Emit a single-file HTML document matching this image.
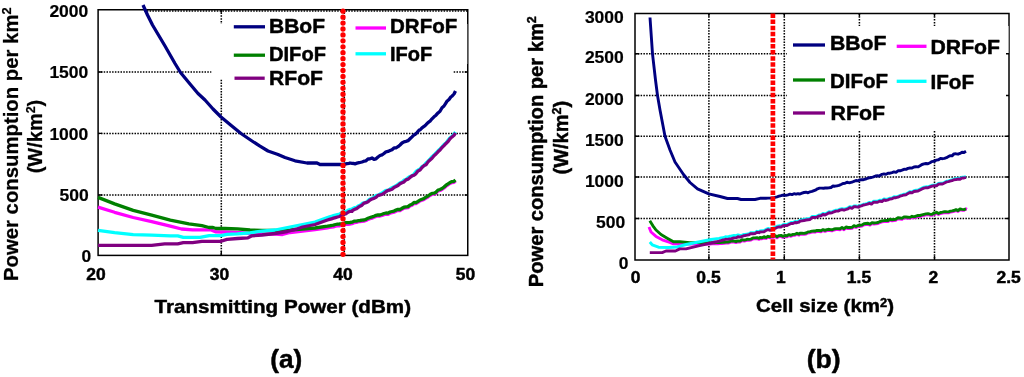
<!DOCTYPE html>
<html lang="en">
<head>
<meta charset="utf-8">
<title>Power consumption per km2 versus transmitting power and cell size</title>
<style>
  html, body { margin: 0; padding: 0; background: #fff; }
  body { width: 1024px; height: 377px; overflow: hidden; }
  svg { display: block; will-change: transform; }
  svg text { font-family: "Liberation Sans", Arial, Helvetica, sans-serif; font-weight: bold; fill: #000; stroke: #000; stroke-width: 0.45px; stroke-linejoin: round; }
  .t2 text { stroke-width: 0.25px; }
  .tk { stroke-width: 0.2px; }
  .g { stroke: #000; stroke-width: 1.55; stroke-dasharray: 1.5 1.3; fill: none; }
  .k { stroke: #000; stroke-width: 1.4; fill: none; }
  .f { stroke: #000; stroke-width: 1.5; fill: none; }
</style>
</head>
<body>
<svg width="1024" height="377" viewBox="0 0 1024 377">
<rect x="0" y="0" width="1024" height="377" fill="#fff"/>
<g id="plot-a">
<line x1="98.1" y1="72.0" x2="467.75" y2="72.0" class="g"/>
<line x1="98.1" y1="133.4" x2="467.75" y2="133.4" class="g"/>
<line x1="98.1" y1="195.0" x2="467.75" y2="195.0" class="g"/>
<line x1="221.3" y1="9.75" x2="221.3" y2="255.4" class="g"/>
<line x1="344.3" y1="9.75" x2="344.3" y2="255.4" class="g"/>
<line x1="144" y1="10.95" x2="467.75" y2="10.95" class="g"/>
<rect x="211.5" y="24" width="241.5" height="55" fill="#fff"/>
<path d="M98.1 72.0h4.2M467.75 72.0h-3" class="k"/>
<path d="M98.1 133.4h4.2M467.75 133.4h-3" class="k"/>
<path d="M98.1 195.0h4.2M467.75 195.0h-3" class="k"/>
<path d="M221.3 255.4v-4.2M221.3 9.75v3" class="k"/>
<rect x="98.1" y="9.75" width="369.65" height="245.65" class="f"/>
<rect x="466.75" y="24" width="0.55" height="40" fill="#fff"/>
<polyline points="143.0,5.0 147.5,15.0 152.5,25.0 165.0,46.0 175.0,63.5 180.5,72.5 190.0,84.0 198.0,93.5 205.0,100.0 213.0,109.0 221.0,117.0 230.0,124.5 241.0,133.5 252.0,141.0 260.0,146.2 268.0,151.0 278.0,154.5 285.0,157.5 295.0,160.8 307.0,163.0 317.0,163.0 320.0,164.5 343.0,164.5 345.0,164.1 347.0,163.6 349.0,163.3 350.0,163.0 352.0,163.4 354.0,163.5 355.0,163.8 357.0,163.2 359.0,162.7 360.0,162.5 362.0,162.0 364.0,161.2 366.0,160.8 368.0,159.0 370.0,158.8 372.0,158.0 374.0,159.3 376.0,158.8 378.0,157.0 380.0,155.5 382.0,154.9 384.0,153.5 386.0,151.8 388.0,151.4 390.0,150.5 392.0,149.7 394.0,147.9 396.0,147.9 398.0,146.7 400.0,145.0 402.0,143.0 404.0,141.8 406.0,141.3 408.0,140.7 410.0,138.8 412.0,136.9 414.0,134.9 415.0,134.5 417.0,132.6 419.0,130.2 420.0,130.0 422.0,127.8 424.0,126.4 426.0,124.7 428.0,122.6 430.0,121.2 432.0,118.8 434.0,116.8 436.0,115.2 438.0,112.9 440.0,111.2 442.0,107.7 444.0,106.0 446.0,102.8 447.0,101.2 449.0,99.5 451.0,96.8 452.0,96.2 454.0,94.0 455.5,91.0" fill="none" stroke="#000080" stroke-width="3.3" stroke-linejoin="round" stroke-linecap="butt"/>
<polyline points="98.0,207.1 114.6,212.3 133.2,217.5 151.7,221.6 170.3,226.2 181.5,229.0 192.6,229.9 211.2,229.9 216.0,231.9 225.0,232.0 237.0,232.5 250.0,233.3 262.0,234.0 275.0,234.2 282.5,234.5 290.0,232.5 302.5,231.0 315.0,229.5 327.5,227.8 329.5,227.4 331.5,227.1 333.5,226.8 335.5,226.2 337.5,225.8 339.5,225.8 340.0,225.5 342.0,225.3 344.0,225.0 346.0,224.4 348.0,224.3 350.0,224.0 352.0,223.7 352.5,223.5 354.5,222.5 356.5,222.3 358.5,221.7 360.0,221.5 362.0,221.3 364.0,221.1 366.0,220.5 368.0,219.3 370.0,218.7 372.0,218.1 374.0,217.3 376.0,216.4 378.0,215.8 380.0,216.0 382.0,215.4 384.0,214.6 386.0,214.1 388.0,214.3 390.0,213.2 392.0,212.7 394.0,212.2 396.0,211.2 398.0,210.3 400.0,210.5 402.0,209.3 404.0,208.2 406.0,207.8 408.0,207.6 410.0,206.0 412.0,205.3 414.0,203.5 416.0,203.6 418.0,202.4 420.0,201.0 422.0,200.3 424.0,199.4 426.0,198.1 428.0,197.0 430.0,195.5 432.0,194.3 434.0,194.2 436.0,193.2 438.0,191.0 440.0,190.5 442.0,189.5 444.0,188.0 446.0,186.2 448.0,184.9 450.0,183.5 452.0,182.6 454.0,182.3 455.5,181.0" fill="none" stroke="#ff00ff" stroke-width="3.3" stroke-linejoin="round" stroke-linecap="butt"/>
<polyline points="98.0,197.4 114.6,203.9 133.2,210.4 151.7,215.1 170.3,220.1 188.9,223.8 201.9,225.7 209.0,227.5 213.0,227.5 216.0,228.5 225.0,228.5 237.5,228.8 250.0,230.0 262.0,230.5 277.5,230.5 290.0,230.0 302.5,229.2 315.0,228.0 327.5,226.2 329.5,225.8 331.5,225.5 333.5,225.1 335.5,224.5 337.5,224.1 339.5,224.0 340.0,223.8 342.0,223.6 344.0,223.3 346.0,222.7 348.0,222.7 350.0,222.5 352.0,222.2 352.5,222.0 354.5,221.1 356.5,221.1 358.5,220.6 360.0,220.5 362.0,220.2 364.0,220.0 366.0,219.4 368.0,218.2 370.0,217.5 372.0,216.9 374.0,216.2 376.0,215.3 378.0,214.8 380.0,215.0 382.0,214.3 384.0,213.5 386.0,213.0 388.0,213.2 390.0,212.0 392.0,211.5 394.0,211.1 396.0,210.1 398.0,209.3 400.0,209.5 402.0,208.3 404.0,207.2 406.0,206.8 408.0,206.6 410.0,205.0 412.0,204.3 414.0,202.5 416.0,202.6 418.0,201.4 420.0,200.0 422.0,199.3 424.0,198.4 426.0,197.1 428.0,196.0 430.0,194.5 432.0,193.3 434.0,193.2 436.0,192.2 438.0,190.0 440.0,189.5 442.0,188.5 444.0,187.0 446.0,185.2 448.0,183.9 450.0,182.5 452.0,181.6 454.0,181.3 455.5,180.0" fill="none" stroke="#008000" stroke-width="3.3" stroke-linejoin="round" stroke-linecap="butt"/>
<polyline points="98.0,230.3 114.6,232.7 133.2,234.6 151.7,235.1 170.3,235.9 177.7,235.9 183.3,237.4 200.0,237.4 209.3,235.6 221.0,235.6 227.0,234.4 237.5,233.8 250.0,232.8 262.0,231.2 275.0,230.0 290.0,227.0 302.5,224.5 315.0,222.0 327.5,217.5 329.5,216.9 331.5,216.3 333.5,215.7 335.5,215.1 337.5,214.5 339.5,214.0 340.0,213.8 342.0,212.6 344.0,211.7 346.0,211.7 348.0,210.3 350.0,209.4 352.0,209.6 352.5,208.8 354.5,207.7 356.5,207.3 358.5,205.7 360.5,205.0 362.5,203.2 364.5,203.0 365.0,202.5 367.0,201.7 369.0,199.7 370.0,199.0 372.0,198.4 374.0,197.3 376.0,195.3 378.0,195.4 380.0,194.0 382.0,193.1 384.0,191.7 386.0,190.3 388.0,190.5 390.0,189.0 392.0,187.7 394.0,186.8 396.0,185.8 398.0,184.3 400.0,182.8 402.0,182.1 404.0,180.1 406.0,179.5 408.0,177.7 410.0,176.5 412.0,175.7 414.0,174.1 416.0,171.4 418.0,170.0 420.0,169.0 422.0,166.6 424.0,165.7 426.0,162.9 428.0,161.2 430.0,159.0 432.0,156.7 434.0,155.0 436.0,152.8 438.0,150.8 440.0,149.0 442.0,146.9 444.0,144.6 446.0,142.9 448.0,140.3 450.0,137.8 452.0,136.3 454.0,134.1 455.5,132.0" fill="none" stroke="#00ffff" stroke-width="3.3" stroke-linejoin="round" stroke-linecap="butt"/>
<polyline points="98.0,245.4 151.7,245.4 164.7,243.9 177.7,243.9 183.3,242.6 192.6,242.6 201.9,241.3 221.0,241.3 227.0,239.4 237.5,238.5 248.0,237.8 252.0,235.8 262.0,235.0 275.0,233.5 287.5,231.5 296.0,229.2 302.5,227.0 315.0,224.5 327.5,220.0 329.5,219.4 331.5,218.8 333.5,218.2 335.5,217.6 337.5,217.0 339.5,216.5 340.0,216.2 342.0,215.0 344.0,214.0 346.0,213.8 348.0,212.3 350.0,211.3 352.0,211.4 352.5,210.5 354.5,209.3 356.5,208.7 358.5,207.1 360.0,206.2 362.0,205.2 364.0,203.2 366.0,202.7 368.0,201.8 370.0,200.0 372.0,199.0 374.0,198.4 376.0,197.3 378.0,195.3 380.0,195.0 382.0,194.4 384.0,193.1 386.0,191.7 388.0,190.3 390.0,190.0 392.0,189.3 394.0,187.5 396.0,186.6 398.0,185.6 400.0,183.8 402.0,182.8 404.0,181.9 406.0,179.8 408.0,179.2 410.0,177.5 412.0,175.9 414.0,175.2 416.0,173.6 418.0,170.9 420.0,170.0 422.0,167.5 424.0,165.6 426.0,164.7 428.0,161.9 430.0,160.0 432.0,158.2 434.0,155.7 436.0,154.0 438.0,151.8 440.0,150.0 442.0,147.5 444.0,145.6 446.0,143.4 448.0,141.6 450.0,138.8 452.0,136.9 454.0,135.2 455.5,133.0" fill="none" stroke="#800080" stroke-width="3.3" stroke-linejoin="round" stroke-linecap="butt"/>
<line x1="343" y1="11.2" x2="343" y2="256" stroke="#ff0000" stroke-width="5.3" stroke-linecap="round" stroke-dasharray="0.01 5.92"/>
<line x1="233.8" y1="26.8" x2="265" y2="26.8" stroke="#000080" stroke-width="3.3"/>
<text x="269" y="32.6" font-size="19.4" text-anchor="start" textLength="56" lengthAdjust="spacingAndGlyphs">BBoF</text>
<line x1="233.8" y1="55.2" x2="265" y2="55.2" stroke="#008000" stroke-width="3.3"/>
<text x="269" y="61.3" font-size="19.4" text-anchor="start" textLength="57" lengthAdjust="spacingAndGlyphs">DIFoF</text>
<line x1="234.5" y1="78.2" x2="264.7" y2="78.2" stroke="#800080" stroke-width="3.3"/>
<text x="269" y="84.6" font-size="19.4" text-anchor="start" textLength="54" lengthAdjust="spacingAndGlyphs">RFoF</text>
<line x1="355.5" y1="28.0" x2="386" y2="28.0" stroke="#ff00ff" stroke-width="3.3"/>
<text x="390" y="33.2" font-size="19.4" text-anchor="start" textLength="67.3" lengthAdjust="spacingAndGlyphs">DRFoF</text>
<line x1="355.5" y1="53.8" x2="386" y2="53.8" stroke="#00ffff" stroke-width="3.3"/>
<text x="390" y="61.1" font-size="19.4" text-anchor="start" textLength="42.2" lengthAdjust="spacingAndGlyphs">IFoF</text>
<text x="88.3" y="17.0" font-size="17.3" text-anchor="end" textLength="38.9" lengthAdjust="spacingAndGlyphs" class="tk">2000</text>
<text x="88.3" y="78.0" font-size="17.3" text-anchor="end" textLength="38.9" lengthAdjust="spacingAndGlyphs" class="tk">1500</text>
<text x="88.3" y="139.6" font-size="17.3" text-anchor="end" textLength="38.9" lengthAdjust="spacingAndGlyphs" class="tk">1000</text>
<text x="88.8" y="200.6" font-size="17.3" text-anchor="end" textLength="29.2" lengthAdjust="spacingAndGlyphs" class="tk">500</text>
<text x="91.3" y="261.9" font-size="17.3" text-anchor="end" textLength="9.7" lengthAdjust="spacingAndGlyphs" class="tk">0</text>
<text x="96.0" y="280.0" font-size="16.2" text-anchor="middle" textLength="19.4" lengthAdjust="spacingAndGlyphs">20</text>
<text x="219.5" y="280.0" font-size="16.2" text-anchor="middle" textLength="19.4" lengthAdjust="spacingAndGlyphs">30</text>
<text x="343.0" y="280.0" font-size="16.2" text-anchor="middle" textLength="19.4" lengthAdjust="spacingAndGlyphs">40</text>
<text x="465.5" y="280.0" font-size="16.2" text-anchor="middle" textLength="19.4" lengthAdjust="spacingAndGlyphs">50</text>
<text x="154.5" y="313.0" font-size="19" text-anchor="start" textLength="256.5" lengthAdjust="spacingAndGlyphs">Transmitting Power (dBm)</text>
<text x="270.3" y="367.5" font-size="25.5" text-anchor="start" textLength="32" lengthAdjust="spacingAndGlyphs">(a)</text>
<g transform="translate(18.3 281) rotate(-90)" class="t2"><text x="0" y="0" font-size="20" transform="scale(1.016 1.02)">Power consumption per km<tspan font-size="12.5" dy="-7">2</tspan></text></g>
<g transform="translate(42.3 173.3) rotate(-90)" class="t2"><text x="0" y="0" font-size="20" transform="scale(1 1.02)">(W/km<tspan font-size="12.5" dy="-7">2</tspan><tspan dy="7">)</tspan></text></g>
</g>
<g id="plot-b">
<line x1="635.0" y1="53.75" x2="1009.0" y2="53.75" class="g"/>
<line x1="635.0" y1="95.5" x2="1009.0" y2="95.5" class="g"/>
<line x1="635.0" y1="136.2" x2="1009.0" y2="136.2" class="g"/>
<line x1="635.0" y1="177.0" x2="1009.0" y2="177.0" class="g"/>
<line x1="635.0" y1="218.5" x2="1009.0" y2="218.5" class="g"/>
<line x1="708.9" y1="13.5" x2="708.9" y2="260.0" class="g"/>
<line x1="784.3" y1="13.5" x2="784.3" y2="260.0" class="g"/>
<line x1="859.4" y1="13.5" x2="859.4" y2="260.0" class="g"/>
<line x1="934.5" y1="13.5" x2="934.5" y2="260.0" class="g"/>
<rect x="787" y="26" width="221.8" height="105" fill="#fff"/>
<path d="M635.0 53.75h4.2M1009.0 53.75h-3" class="k"/>
<path d="M635.0 95.5h4.2M1009.0 95.5h-3" class="k"/>
<path d="M635.0 136.2h4.2M1009.0 136.2h-3" class="k"/>
<path d="M635.0 177.0h4.2M1009.0 177.0h-3" class="k"/>
<path d="M635.0 218.5h4.2M1009.0 218.5h-3" class="k"/>
<path d="M708.9 260.0v-4.2M708.9 13.5v3" class="k"/>
<path d="M784.3 260.0v-4.2M784.3 13.5v3" class="k"/>
<path d="M859.4 260.0v-4.2M859.4 13.5v3" class="k"/>
<path d="M934.5 260.0v-4.2M934.5 13.5v3" class="k"/>
<rect x="635.0" y="13.5" width="374.0" height="246.5" class="f"/>
<rect x="1008.0" y="26" width="0.55" height="27" fill="#fff"/>
<polyline points="650.0,17.5 652.5,53.8 655.5,80.0 657.5,95.5 660.0,110.0 665.0,136.2 670.0,150.0 675.0,162.0 683.5,174.5 690.0,182.5 697.5,188.8 708.8,193.8 720.0,196.5 727.5,198.5 737.5,198.5 741.0,199.5 755.0,199.5 760.0,198.3 762.0,198.3 764.0,198.2 766.0,198.2 768.0,198.1 770.0,198.1 772.0,198.0 773.0,198.0 775.0,197.3 777.0,196.8 779.0,196.1 780.0,196.0 782.0,195.3 784.0,195.2 786.0,195.4 788.0,194.9 790.0,194.2 792.0,194.6 794.0,193.7 796.0,194.2 798.0,193.7 800.0,194.0 802.0,193.1 804.0,192.5 806.0,192.2 808.0,192.8 810.0,191.8 812.0,191.4 814.0,190.6 816.0,189.8 817.5,188.8 819.5,188.1 821.5,188.1 823.5,188.3 825.0,188.0 827.0,188.0 829.0,187.8 831.0,187.5 833.0,186.0 835.0,186.2 837.0,185.8 839.0,185.4 841.0,184.5 843.0,183.5 845.0,183.3 847.0,182.2 848.0,182.5 850.0,182.7 852.0,182.2 854.0,181.3 856.0,180.5 858.0,180.9 859.5,180.0 861.5,179.7 863.5,179.7 865.5,179.2 867.5,178.3 869.5,177.7 871.5,177.5 873.5,176.8 875.5,176.0 877.5,175.8 879.5,176.1 880.0,175.5 882.0,174.3 884.0,173.9 886.0,174.3 888.0,173.3 890.0,173.2 892.0,172.6 894.0,171.9 896.0,172.4 898.0,170.8 900.0,170.8 902.0,170.1 904.0,169.3 906.0,169.4 908.0,168.4 910.0,168.0 912.0,168.1 914.0,167.0 916.0,166.8 918.0,166.9 920.0,165.8 922.0,164.5 924.0,163.9 926.0,163.5 928.0,163.7 930.0,162.8 932.0,161.6 934.0,161.2 934.5,161.2 936.5,160.1 938.5,159.8 940.5,158.4 942.5,158.7 944.5,158.3 946.5,157.7 948.5,156.6 950.0,155.8 952.0,155.9 954.0,153.9 956.0,153.8 958.0,154.2 960.0,153.4 962.0,152.3 964.0,152.5 966.0,151.3" fill="none" stroke="#000080" stroke-width="2.9" stroke-linejoin="round" stroke-linecap="butt"/>
<polyline points="649.0,227.0 651.0,232.0 656.0,236.4 662.2,239.8 669.8,242.4 673.5,243.9 683.5,244.0 698.5,244.0 710.0,244.0 712.0,243.9 714.0,243.8 716.0,243.8 718.0,243.7 720.0,243.6 722.0,243.5 724.0,243.4 726.0,243.1 728.0,243.0 730.0,242.5 732.0,241.8 734.0,242.1 736.0,242.5 738.0,241.9 740.0,242.1 742.0,240.7 744.0,241.1 745.0,241.0 747.0,240.3 749.0,240.4 751.0,240.1 753.0,238.9 755.0,238.9 757.0,238.7 759.0,239.3 760.0,238.5 762.0,238.7 764.0,237.7 766.0,238.5 768.0,237.3 770.0,237.9 772.0,237.0 773.0,237.5 775.0,236.6 777.0,237.7 779.0,236.6 781.0,236.4 783.0,237.4 785.0,236.5 787.0,236.8 789.0,235.6 791.0,236.3 793.0,235.4 795.0,235.3 797.0,234.3 799.0,235.1 800.0,234.2 802.0,234.3 804.0,234.4 806.0,234.0 808.0,232.9 810.0,232.7 812.0,232.1 814.0,231.9 815.0,232.2 817.0,231.4 819.0,231.5 821.0,231.7 823.0,230.6 825.0,231.4 827.0,230.6 829.0,230.3 830.0,230.5 832.0,230.8 834.0,230.0 836.0,229.6 838.0,229.6 840.0,229.7 842.0,228.5 844.0,229.7 846.0,228.0 848.0,228.5 850.0,228.5 852.0,228.3 854.0,226.7 856.0,227.5 858.0,226.5 860.0,226.3 862.0,226.0 864.0,224.8 866.0,224.5 868.0,224.3 870.0,225.1 872.0,223.6 874.0,224.0 876.0,223.9 878.0,223.5 880.0,222.5 882.0,221.9 884.0,221.6 886.0,221.5 888.0,221.5 890.0,220.2 892.0,220.8 894.0,220.5 896.0,220.2 898.0,218.7 900.0,219.0 902.0,219.4 904.0,217.9 906.0,218.0 908.0,218.2 910.0,218.4 912.0,217.3 914.0,217.9 916.0,217.1 918.0,216.5 920.0,216.5 922.0,215.9 924.0,215.4 926.0,214.9 928.0,214.7 930.0,215.2 932.0,215.4 934.0,213.8 934.5,214.2 936.5,213.3 938.5,214.5 940.5,213.5 942.5,213.1 944.5,212.6 946.5,212.8 948.5,212.9 950.0,212.2 952.0,211.8 954.0,211.4 956.0,210.5 958.0,211.5 960.0,209.8 962.0,210.2 964.0,210.3 966.0,208.9 967.0,209.3" fill="none" stroke="#ff00ff" stroke-width="2.9" stroke-linejoin="round" stroke-linecap="butt"/>
<polyline points="649.8,220.8 652.9,225.8 656.0,230.0 661.0,234.5 667.2,238.2 673.5,241.8 679.8,241.8 689.8,242.6 698.5,242.6 710.0,242.8 712.0,242.7 714.0,242.7 716.0,242.6 718.0,242.6 720.0,242.5 722.0,242.4 724.0,242.3 726.0,242.1 728.0,242.0 730.0,241.5 732.0,240.8 734.0,241.1 736.0,241.5 738.0,240.9 740.0,241.1 742.0,239.7 744.0,240.1 745.0,240.0 747.0,239.3 749.0,239.4 751.0,239.1 753.0,237.9 755.0,237.9 757.0,237.7 759.0,238.3 760.0,237.5 762.0,237.7 764.0,236.7 766.0,237.5 768.0,236.3 770.0,236.9 772.0,236.0 773.0,236.5 775.0,235.6 777.0,236.7 779.0,235.6 781.0,235.4 783.0,236.4 785.0,235.5 787.0,235.8 789.0,234.6 791.0,235.3 793.0,234.4 795.0,234.3 797.0,233.3 799.0,234.1 800.0,233.2 802.0,233.3 804.0,233.4 806.0,233.0 808.0,231.9 810.0,231.7 812.0,231.1 814.0,230.9 815.0,231.2 817.0,230.4 819.0,230.5 821.0,230.7 823.0,229.6 825.0,230.4 827.0,229.6 829.0,229.3 830.0,229.5 832.0,229.8 834.0,229.0 836.0,228.6 838.0,228.6 840.0,228.7 842.0,227.5 844.0,228.7 846.0,227.0 848.0,227.5 850.0,227.5 852.0,227.3 854.0,225.7 856.0,226.5 858.0,225.5 860.0,225.3 862.0,225.0 864.0,223.8 866.0,223.5 868.0,223.3 870.0,224.1 872.0,222.6 874.0,223.0 876.0,222.9 878.0,222.5 880.0,221.5 882.0,220.9 884.0,220.6 886.0,220.5 888.0,220.5 890.0,219.2 892.0,219.8 894.0,219.5 896.0,219.2 898.0,217.7 900.0,218.0 902.0,218.4 904.0,216.9 906.0,217.0 908.0,217.2 910.0,217.4 912.0,216.3 914.0,216.9 916.0,216.1 918.0,215.5 920.0,215.5 922.0,214.9 924.0,214.4 926.0,213.9 928.0,213.7 930.0,214.2 932.0,214.4 934.0,212.8 934.5,213.2 936.5,212.3 938.5,213.5 940.5,212.5 942.5,212.1 944.5,211.6 946.5,211.8 948.5,211.9 950.0,211.2 952.0,210.9 954.0,210.5 956.0,209.6 958.0,210.6 960.0,209.0 962.0,209.4 964.0,209.6 966.0,208.8" fill="none" stroke="#008000" stroke-width="2.9" stroke-linejoin="round" stroke-linecap="butt"/>
<polyline points="649.8,242.0 652.2,244.8 658.5,247.2 668.5,247.5 677.2,247.0 686.0,244.5 698.5,242.0 711.0,239.5 713.0,239.2 715.0,238.9 717.0,238.6 719.0,238.4 721.0,238.0 723.0,237.6 723.5,237.6 725.5,236.8 727.5,236.9 729.5,236.3 731.5,236.1 732.0,235.8 734.0,235.4 736.0,235.7 738.0,234.9 740.0,235.4 742.0,235.1 744.0,234.5 745.0,234.5 747.0,234.1 749.0,233.8 751.0,232.6 753.0,232.7 755.0,232.6 757.0,231.3 759.0,231.7 760.0,231.0 762.0,230.8 764.0,230.6 766.0,229.4 768.0,228.5 770.0,229.1 772.0,228.7 773.0,228.0 775.0,227.3 777.0,226.2 779.0,225.8 781.0,225.9 783.0,224.8 785.0,224.5 787.0,224.6 789.0,223.5 791.0,222.4 793.0,222.5 795.0,221.5 797.0,221.7 799.0,221.1 800.0,220.2 802.0,219.8 804.0,219.5 806.0,219.0 808.0,218.7 810.0,218.5 812.0,216.5 814.0,216.5 815.0,216.5 817.0,216.1 819.0,215.0 821.0,214.8 823.0,213.5 825.0,214.1 827.0,212.9 829.0,211.7 830.0,212.0 832.0,211.8 834.0,210.8 836.0,210.1 838.0,210.1 840.0,209.1 842.0,208.7 844.0,209.2 846.0,208.5 848.0,207.8 850.0,206.6 852.0,207.4 854.0,205.9 856.0,205.9 858.0,206.4 859.5,205.5 861.5,205.2 863.5,204.2 865.5,203.8 867.5,203.3 869.5,202.4 871.5,203.2 873.5,201.2 875.5,201.3 877.5,201.3 879.5,200.2 880.0,200.2 882.0,200.5 884.0,198.9 886.0,199.5 888.0,198.9 890.0,198.1 892.0,198.0 894.0,196.8 896.0,196.9 898.0,196.4 900.0,195.5 902.0,194.9 904.0,194.2 906.0,193.9 908.0,192.8 910.0,191.6 912.0,192.0 914.0,190.6 916.0,190.3 918.0,190.1 920.0,189.0 922.0,188.0 924.0,187.2 926.0,186.8 928.0,186.9 930.0,186.0 932.0,185.3 934.0,185.1 934.5,185.0 936.5,185.1 938.5,183.5 940.5,183.1 942.5,183.2 944.5,182.3 946.5,181.2 948.5,180.9 950.0,180.5 952.0,180.0 954.0,179.0 956.0,178.8 958.0,178.2 960.0,178.5 962.0,177.2 964.0,177.2 966.0,176.5" fill="none" stroke="#00ffff" stroke-width="2.9" stroke-linejoin="round" stroke-linecap="butt"/>
<polyline points="649.8,252.6 662.2,252.6 666.0,251.0 675.4,251.0 679.8,248.9 686.0,248.9 698.5,245.8 711.0,243.0 713.0,242.5 715.0,242.0 717.0,241.6 719.0,241.2 721.0,240.6 723.0,240.0 723.5,240.0 725.5,239.3 727.5,239.4 729.5,238.9 731.5,238.8 732.0,238.5 734.0,237.9 736.0,237.9 738.0,236.8 740.0,237.1 742.0,236.5 744.0,235.6 745.0,235.5 747.0,235.1 749.0,234.8 751.0,233.6 753.0,233.7 755.0,233.6 757.0,232.3 759.0,232.7 760.0,232.0 762.0,231.9 764.0,231.7 766.0,230.5 768.0,229.7 770.0,230.3 772.0,229.9 773.0,229.2 775.0,228.5 777.0,227.4 779.0,226.9 781.0,227.0 783.0,225.8 785.0,225.5 787.0,225.6 789.0,224.5 791.0,223.4 793.0,223.5 795.0,222.5 797.0,222.7 799.0,222.1 800.0,221.2 802.0,220.8 804.0,220.5 806.0,220.0 808.0,219.7 810.0,219.5 812.0,217.5 814.0,217.5 815.0,217.5 817.0,217.1 819.0,216.0 821.0,215.8 823.0,214.5 825.0,215.1 827.0,213.9 829.0,212.7 830.0,213.0 832.0,212.8 834.0,211.8 836.0,211.1 838.0,211.1 840.0,210.1 842.0,209.7 844.0,210.2 846.0,209.5 848.0,208.8 850.0,207.6 852.0,208.3 854.0,206.7 856.0,206.8 858.0,207.2 859.5,206.2 861.5,205.9 863.5,205.0 865.5,204.6 867.5,204.1 869.5,203.3 871.5,204.1 873.5,202.2 875.5,202.2 877.5,202.2 879.5,201.2 880.0,201.2 882.0,201.5 884.0,199.9 886.0,200.5 888.0,199.8 890.0,199.0 892.0,198.8 894.0,197.7 896.0,197.7 898.0,197.2 900.0,196.2 902.0,195.7 904.0,195.0 906.0,194.7 908.0,193.6 910.0,192.5 912.0,192.9 914.0,191.5 916.0,191.2 918.0,191.1 920.0,190.0 922.0,188.9 924.0,188.1 926.0,187.7 928.0,187.8 930.0,186.9 932.0,186.1 934.0,185.8 934.5,185.8 936.5,185.8 938.5,184.2 940.5,183.9 942.5,184.0 944.5,183.0 946.5,181.9 948.5,181.6 950.0,181.2 952.0,180.7 954.0,179.7 956.0,179.6 958.0,179.0 960.0,179.2 962.0,178.0 964.0,178.0 966.0,177.3" fill="none" stroke="#800080" stroke-width="2.9" stroke-linejoin="round" stroke-linecap="butt"/>
<line x1="772.9" y1="13.5" x2="772.9" y2="259.5" stroke="#ff0000" stroke-width="4.7" stroke-dasharray="4.5 1.6"/>
<line x1="793" y1="45.0" x2="825" y2="45.0" stroke="#000080" stroke-width="3.3"/>
<text x="830" y="50.0" font-size="19.4" text-anchor="start" textLength="56.5" lengthAdjust="spacingAndGlyphs">BBoF</text>
<line x1="793" y1="80.0" x2="825" y2="80.0" stroke="#008000" stroke-width="3.3"/>
<text x="830" y="88.0" font-size="19.4" text-anchor="start" textLength="58" lengthAdjust="spacingAndGlyphs">DIFoF</text>
<line x1="793" y1="113.0" x2="825" y2="113.0" stroke="#800080" stroke-width="3.3"/>
<text x="830.5" y="120.0" font-size="19.4" text-anchor="start" textLength="54.5" lengthAdjust="spacingAndGlyphs">RFoF</text>
<line x1="896.7" y1="46.3" x2="926.5" y2="46.3" stroke="#ff00ff" stroke-width="3.3"/>
<text x="930.5" y="53.8" font-size="19.4" text-anchor="start" textLength="69.5" lengthAdjust="spacingAndGlyphs">DRFoF</text>
<line x1="896.7" y1="81.3" x2="926.5" y2="81.3" stroke="#00ffff" stroke-width="3.3"/>
<text x="930.5" y="88.8" font-size="19.4" text-anchor="start" textLength="43.5" lengthAdjust="spacingAndGlyphs">IFoF</text>
<text x="623.8" y="23.0" font-size="17.3" text-anchor="end" textLength="38.9" lengthAdjust="spacingAndGlyphs" class="tk">3000</text>
<text x="623.8" y="63.0" font-size="17.3" text-anchor="end" textLength="38.9" lengthAdjust="spacingAndGlyphs" class="tk">2500</text>
<text x="623.8" y="104.6" font-size="17.3" text-anchor="end" textLength="38.9" lengthAdjust="spacingAndGlyphs" class="tk">2000</text>
<text x="623.8" y="145.6" font-size="17.3" text-anchor="end" textLength="38.9" lengthAdjust="spacingAndGlyphs" class="tk">1500</text>
<text x="623.8" y="186.5" font-size="17.3" text-anchor="end" textLength="38.9" lengthAdjust="spacingAndGlyphs" class="tk">1000</text>
<text x="625.3" y="228.0" font-size="17.3" text-anchor="end" textLength="29.2" lengthAdjust="spacingAndGlyphs" class="tk">500</text>
<text x="628.5" y="268.8" font-size="17.3" text-anchor="end" textLength="9.7" lengthAdjust="spacingAndGlyphs" class="tk">0</text>
<text x="635.6" y="282.9" font-size="16.2" text-anchor="middle" textLength="9.7" lengthAdjust="spacingAndGlyphs">0</text>
<text x="708.5" y="282.9" font-size="16.2" text-anchor="middle" textLength="24.3" lengthAdjust="spacingAndGlyphs">0.5</text>
<text x="780.8" y="282.9" font-size="16.2" text-anchor="middle" textLength="9.7" lengthAdjust="spacingAndGlyphs">1</text>
<text x="859.0" y="282.9" font-size="16.2" text-anchor="middle" textLength="24.3" lengthAdjust="spacingAndGlyphs">1.5</text>
<text x="933.3" y="282.9" font-size="16.2" text-anchor="middle" textLength="9.7" lengthAdjust="spacingAndGlyphs">2</text>
<text x="1008.7" y="282.9" font-size="16.2" text-anchor="middle" textLength="24.3" lengthAdjust="spacingAndGlyphs">2.5</text>
<text x="756" y="312.4" font-size="19.2" textLength="138" lengthAdjust="spacingAndGlyphs">Cell size (km<tspan font-size="12" dy="-5.8">2</tspan><tspan dy="5.8">)</tspan></text>
<text x="806.7" y="367.6" font-size="25.5" text-anchor="start" textLength="34" lengthAdjust="spacingAndGlyphs">(b)</text>
<g transform="translate(543.2 287.2) rotate(-90)"><text x="0" y="0" font-size="20" transform="scale(1.007 1.0)">Power consumption per km<tspan font-size="12.5" dy="-7">2</tspan></text></g>
<g transform="translate(568.2 174.5) rotate(-90)"><text x="0" y="0" font-size="20" transform="scale(1 1.0)">(W/km<tspan font-size="12.5" dy="-7">2</tspan><tspan dy="7">)</tspan></text></g>
</g>
</svg>
</body>
</html>
